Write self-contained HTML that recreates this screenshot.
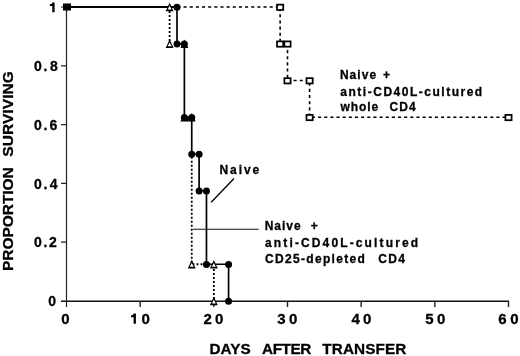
<!DOCTYPE html>
<html><head><meta charset="utf-8"><style>
html,body{margin:0;padding:0;background:#fff;overflow:hidden;}
svg{display:block;filter:grayscale(1);}
text{font-family:"Liberation Sans",sans-serif;font-weight:bold;fill:#000;stroke:#000;stroke-width:0.3px;}
</style></head><body>
<svg width="520" height="356" viewBox="0 0 520 356">
<path d="M66.5 7 V307" stroke="#222" stroke-width="1.2" fill="none"/>
<path d="M61 301.3 H509" stroke="#111" stroke-width="1.5" fill="none"/>
<path d="M61 242.2 H66.5 M61 183.4 H66.5 M61 124.6 H66.5 M61 65.8 H66.5 M61 7 H66.5" stroke="#222" stroke-width="1.2" fill="none"/>
<path d="M140.17 301 V307 M213.83 301 V307 M287.5 301 V307 M361.17 301 V307 M434.83 301 V307 M508.5 301 V307" stroke="#222" stroke-width="1.4" fill="none"/>
<path d="M66.5 7 L280.13 7" stroke="#000" stroke-width="1.6" fill="none" stroke-dasharray="3.1 3.05" stroke-dashoffset="5.95"/>
<path d="M280.13 7 L280.13 43.75" stroke="#000" stroke-width="1.6" fill="none" stroke-dasharray="3.1 3.05" stroke-dashoffset="5.05"/>
<path d="M280.13 43.75 L287.5 43.75" stroke="#000" stroke-width="1.6" fill="none" stroke-dasharray="3.1 3.05" stroke-dashoffset="3.83"/>
<path d="M287.5 43.75 L287.5 80.5" stroke="#000" stroke-width="1.6" fill="none" stroke-dasharray="3.1 3.05" stroke-dashoffset="6"/>
<path d="M287.5 80.5 L309.6 80.5" stroke="#000" stroke-width="1.6" fill="none" stroke-dasharray="3.1 3.05" stroke-dashoffset="0.1"/>
<path d="M309.6 80.5 L309.6 117.25" stroke="#000" stroke-width="1.6" fill="none" stroke-dasharray="3.1 3.05" stroke-dashoffset="3.95"/>
<path d="M309.6 117.25 L508.5 117.25" stroke="#000" stroke-width="1.6" fill="none" stroke-dasharray="3.1 3.05" stroke-dashoffset="3.85"/>
<path d="M169.63 7 L169.63 43.75" stroke="#000" stroke-width="1.8" fill="none" stroke-dasharray="1.9 2.1" stroke-dashoffset="3.95"/>
<path d="M191.73 154 L191.73 264.25" stroke="#000" stroke-width="1.8" fill="none" stroke-dasharray="1.9 2.1" stroke-dashoffset="1.25"/>
<path d="M191.73 264.25 L213.83 264.25" stroke="#000" stroke-width="1.8" fill="none" stroke-dasharray="1.9 2.1" stroke-dashoffset="3.18"/>
<path d="M213.83 264.25 L213.83 301" stroke="#000" stroke-width="1.8" fill="none" stroke-dasharray="1.9 2.1" stroke-dashoffset="3.2"/>
<path d="M66.5 6.9 H177" stroke="#000" stroke-width="2" fill="none"/>
<path d="M177 7 L177 43.75 L184.37 43.75 L184.37 117.25 L191.73 117.25 L191.73 154 L199.1 154 L199.1 190.75 L206.47 190.75 L206.47 264.25 L228.57 264.25 L228.57 301" stroke="#000" stroke-width="1.7" fill="none"/>
<rect x="277.03" y="4.65" width="6.2" height="5.3" fill="#fff" stroke="#000" stroke-width="1.75"/>
<rect x="277.03" y="41.4" width="6.2" height="5.3" fill="#fff" stroke="#000" stroke-width="1.75"/>
<rect x="284.4" y="41.4" width="6.2" height="5.3" fill="#fff" stroke="#000" stroke-width="1.75"/>
<rect x="284.4" y="78.15" width="6.2" height="5.3" fill="#fff" stroke="#000" stroke-width="1.75"/>
<rect x="306.5" y="78.15" width="6.2" height="5.3" fill="#fff" stroke="#000" stroke-width="1.75"/>
<rect x="306.5" y="114.9" width="6.2" height="5.3" fill="#fff" stroke="#000" stroke-width="1.75"/>
<rect x="505.4" y="114.9" width="6.2" height="5.3" fill="#fff" stroke="#000" stroke-width="1.75"/>
<path d="M169.63 2.7 L173.58 11.2 L165.68 11.2Z" fill="#000"/><path d="M169.63 5.8 L171.63 9.4 L167.63 9.4Z" fill="#fff"/>
<path d="M169.63 39.45 L173.58 47.95 L165.68 47.95Z" fill="#000"/><path d="M169.63 42.55 L171.63 46.15 L167.63 46.15Z" fill="#fff"/>
<path d="M184.37 39.45 L188.32 47.95 L180.42 47.95Z" fill="#000"/><path d="M184.37 42.55 L186.37 46.15 L182.37 46.15Z" fill="#fff"/>
<path d="M184.37 112.95 L188.32 121.45 L180.42 121.45Z" fill="#000"/><path d="M184.37 116.05 L186.37 119.65 L182.37 119.65Z" fill="#fff"/>
<path d="M191.73 112.95 L195.68 121.45 L187.78 121.45Z" fill="#000"/><path d="M191.73 116.05 L193.73 119.65 L189.73 119.65Z" fill="#fff"/>
<path d="M191.73 259.95 L195.68 268.45 L187.78 268.45Z" fill="#000"/><path d="M191.73 263.05 L193.73 266.65 L189.73 266.65Z" fill="#fff"/>
<path d="M213.83 259.95 L217.78 268.45 L209.88 268.45Z" fill="#000"/><path d="M213.83 263.05 L215.83 266.65 L211.83 266.65Z" fill="#fff"/>
<path d="M213.83 296.7 L217.78 305.2 L209.88 305.2Z" fill="#000"/><path d="M213.83 299.8 L215.83 303.4 L211.83 303.4Z" fill="#fff"/>
<circle cx="177" cy="7.2" r="3.5" fill="#000"/>
<circle cx="177" cy="43.95" r="3.5" fill="#000"/>
<circle cx="184.37" cy="43.95" r="3.5" fill="#000"/>
<circle cx="184.37" cy="117.45" r="3.5" fill="#000"/>
<circle cx="191.73" cy="117.45" r="3.5" fill="#000"/>
<circle cx="191.73" cy="154.2" r="3.5" fill="#000"/>
<circle cx="199.1" cy="154.2" r="3.5" fill="#000"/>
<circle cx="199.1" cy="190.95" r="3.5" fill="#000"/>
<circle cx="206.47" cy="190.95" r="3.5" fill="#000"/>
<circle cx="206.47" cy="264.45" r="3.5" fill="#000"/>
<circle cx="228.57" cy="264.45" r="3.5" fill="#000"/>
<circle cx="228.57" cy="301.2" r="3.5" fill="#000"/>
<rect x="63" y="3.5" width="8" height="7" fill="#000"/>
<rect x="186.6" y="117" width="2.8" height="3.6" fill="#000"/>
<path d="M234 178.5 L211.2 202.2" stroke="#000" stroke-width="1.3" fill="none"/>
<path d="M193 229.2 H258.7" stroke="#111" stroke-width="1.1" fill="none"/>
<text x="48.25" y="306.2" font-size="14" letter-spacing="0">0</text>
<text x="33.95" y="247.4" font-size="14" letter-spacing="0">0</text>
<text x="43.55" y="247.4" font-size="14" letter-spacing="0">.</text>
<text x="49.01" y="247.4" font-size="14" letter-spacing="0">2</text>
<text x="33.95" y="188.6" font-size="14" letter-spacing="0">0</text>
<text x="43.55" y="188.6" font-size="14" letter-spacing="0">.</text>
<text x="49.69" y="188.6" font-size="14" letter-spacing="0">4</text>
<text x="33.95" y="129.8" font-size="14" letter-spacing="0">0</text>
<text x="43.55" y="129.8" font-size="14" letter-spacing="0">.</text>
<text x="49.39" y="129.8" font-size="14" letter-spacing="0">6</text>
<text x="33.95" y="71" font-size="14" letter-spacing="0">0</text>
<text x="43.55" y="71" font-size="14" letter-spacing="0">.</text>
<text x="50.06" y="71" font-size="14" letter-spacing="0">8</text>
<path d="M54.6 2.4 V12.2 H52.3 V6 H49.8 V4.3 C51.3 4.3 52.1 3.5 52.4 2.4 Z" fill="#000"/>
<text x="61.21" y="324" font-size="15" letter-spacing="0">0</text>
<text x="141.41" y="324" font-size="15" letter-spacing="0">0</text>
<text x="203.58" y="324" font-size="15" letter-spacing="0">2</text>
<text x="215.01" y="324" font-size="15" letter-spacing="0">0</text>
<text x="277.36" y="324" font-size="15" letter-spacing="0">3</text>
<text x="289.01" y="324" font-size="15" letter-spacing="0">0</text>
<text x="351.47" y="324" font-size="15" letter-spacing="0">4</text>
<text x="363.01" y="324" font-size="15" letter-spacing="0">0</text>
<text x="425.24" y="324" font-size="15" letter-spacing="0">5</text>
<text x="437.01" y="324" font-size="15" letter-spacing="0">0</text>
<text x="498.25" y="324" font-size="15" letter-spacing="0">6</text>
<text x="510.21" y="324" font-size="15" letter-spacing="0">0</text>
<path d="M135.9 313.6 V323.8 H133.6 V317.2 H131 V315.4 C132.6 315.4 133.4 314.7 133.7 313.6 Z" fill="#000"/>
<text x="209.38" y="354" font-size="15.3" letter-spacing="0.1">DAYS</text>
<text x="262.12" y="354" font-size="15.3" letter-spacing="-0.45">AFTER</text>
<text x="322.33" y="354" font-size="15.3" letter-spacing="0.1">TRANSFER</text>
<g transform="translate(12.9 270) rotate(-90)"><text x="-1.04" y="0" font-size="15.5" letter-spacing="-0.04">PROPORTION</text><text x="113.25" y="0" font-size="15.5" letter-spacing="0.08">SURVIVING</text></g>
<text x="219.4" y="173.8" font-size="12" letter-spacing="1.97">Naive</text>
<text x="264.7" y="230.4" font-size="12" letter-spacing="0.97">Naive</text>
<text x="310.8" y="230.4" font-size="12" letter-spacing="0">+</text>
<text x="265.05" y="246.8" font-size="12" letter-spacing="2.13">anti-CD40L-cultured</text>
<text x="265.11" y="263" font-size="12" letter-spacing="1.31">CD25-depleted</text>
<text x="378.21" y="263" font-size="12" letter-spacing="1.33">CD4</text>
<text x="339.9" y="78.9" font-size="12" letter-spacing="1.05">Naive</text>
<text x="383.1" y="78.9" font-size="12" letter-spacing="0">+</text>
<text x="340.35" y="95.5" font-size="12" letter-spacing="1.51">anti-CD40L-cultured</text>
<text x="340.54" y="111" font-size="12" letter-spacing="0.89">whole</text>
<text x="389.61" y="111" font-size="12" letter-spacing="0.98">CD4</text>
</svg>
</body></html>
